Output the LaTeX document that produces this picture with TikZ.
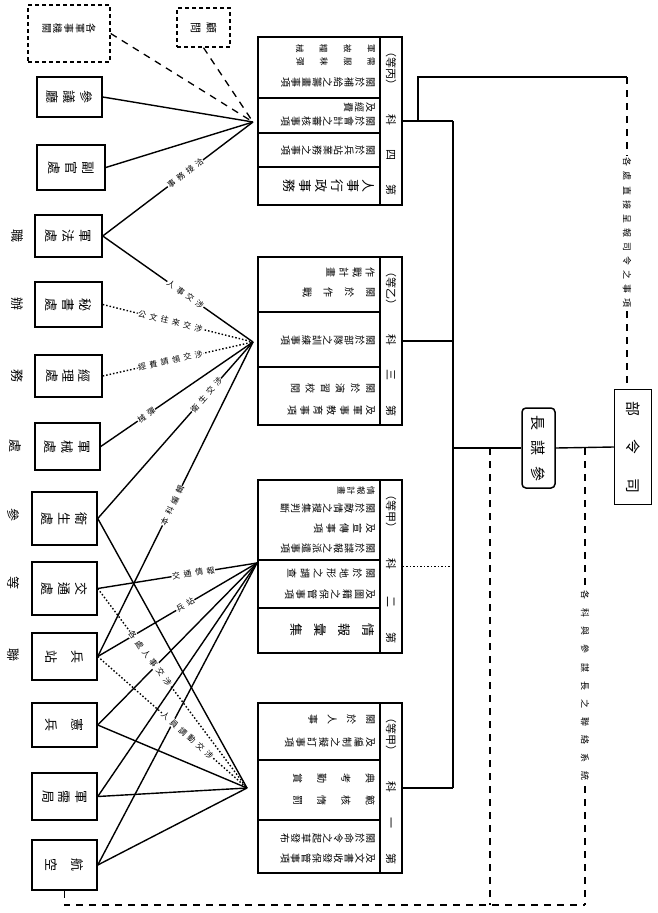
\documentclass[tikz,border=0pt]{standalone}
\usepackage{fontspec}
\newfontfamily\cjk{Noto Sans CJK TC}
\newfontfamily\cjklab[LetterSpace=45]{Noto Sans CJK TC}
\usetikzlibrary{calc}
\makeatletter
\def\vt@first#1{\hbox to 1.1em{\hss#1\hss}\vt@aux}
\def\vt@aux#1{\ifx\relax#1\else\kern\vt@gap\relax\hbox to 1.1em{\hss#1\hss}\expandafter\vt@aux\fi}
\newcommand\vtxt[2][1pt]{\vbox{\offinterlineskip\def\vt@gap{#1}\vt@first#2\relax}}
\def\sp@aux#1{\ifx\relax#1\else#1\hfil\expandafter\sp@aux\fi}
\newcommand\spreadtxt[2]{\hbox to #1{\sp@aux#2\relax\unskip}}
\makeatother
\begin{document}
\begin{tikzpicture}[x=1pt,y=-1pt,
  conn/.style={line width=1.4pt},
  dotc/.style={line width=1.4pt, dash pattern=on 1.5pt off 2pt},
  dsh/.style={line width=1.3pt, dash pattern=on 7pt off 6pt},
  lbox/.style={draw, line width=1.5pt, inner sep=0pt, fill=white},
  dbox/.style={draw, line width=1.4pt, dash pattern=on 4pt off 3pt, inner sep=0pt, fill=white},
  bigbox/.style={draw, line width=1.7pt, inner sep=0pt, minimum width=144pt, fill=white},
  inln/.style={line width=1.4pt},
  trow/.style={rotate=-90, anchor=north, inner sep=0pt, font=\cjk\fontsize{10}{10}\selectfont},
  trowS/.style={trow, font=\cjk\fontsize{8.5}{8.5}\selectfont},
  trowL/.style={trow, font=\cjk\fontsize{13}{13}\selectfont},
  bt/.style={rotate=-90, inner sep=0pt, font=\cjk\fontsize{13}{13}\selectfont},
  hd/.style={rotate=-90, inner sep=0pt, font=\cjk\fontsize{11}{11}\selectfont},
  lab/.style={sloped, fill=white, inner sep=0.6pt, font=\cjklab\fontsize{8}{8}\selectfont},
  sidel/.style={rotate=-90, inner sep=0pt, font=\cjk\fontsize{13}{13}\selectfont},
]
\useasboundingbox (0,0) rectangle (658,913);
\fill[white] (0,0) rectangle (658,913);

% ---------------- left boxes ----------------
\node[dbox, minimum width=82pt, minimum height=57pt] (b1) at (69,33.5) {};
\node[dbox, minimum width=53pt, minimum height=39pt] (b2) at (203.5,27.5) {};
\node[lbox, minimum width=65pt, minimum height=40pt] (b3) at (69.5,97) {};
\node[lbox, minimum width=68pt, minimum height=45pt] (b4) at (71,167.5) {};
\node[lbox, minimum width=67pt, minimum height=42pt] (b5) at (68.5,236) {};
\node[lbox, minimum width=67pt, minimum height=45pt] (b6) at (68.5,304.5) {};
\node[lbox, minimum width=67pt, minimum height=42pt] (b7) at (68.5,376) {};
\node[lbox, minimum width=65pt, minimum height=47pt] (b8) at (67.5,446.5) {};
\node[lbox, minimum width=65pt, minimum height=53pt] (b9) at (64.5,518.5) {};
\node[lbox, minimum width=65pt, minimum height=53pt] (b10) at (64.5,588.5) {};
\node[lbox, minimum width=65pt, minimum height=47pt] (b11) at (64.5,656.5) {};
\node[lbox, minimum width=65pt, minimum height=44pt] (b12) at (64.5,725) {};
\node[lbox, minimum width=65pt, minimum height=47pt] (b13) at (64.5,796.5) {};
\node[lbox, minimum width=65pt, minimum height=50pt] (b14) at (64.5,865) {};

% ---------------- convergence points ----------------
\coordinate (PA) at (253,122);
\coordinate (PB) at (253,342);
\coordinate (PC) at (257,563);
\coordinate (PD) at (247,788);

% to A
\draw[dsh] (b1.east) -- (PA);
\draw[dsh] (b2.south) -- (PA);
\draw[conn] (b3.east) -- (PA);
\draw[conn] (b4.east) -- (PA);
\draw[conn] (b5.east) -- node[lab, pos=0.55] {事務接洽} (PA);
% to B
\draw[conn] (b5.east) -- node[lab, pos=0.55] {人事交涉} (PB);
\draw[dotc] (b6.east) -- node[lab, pos=0.45] {公文往來交涉} (PB);
\draw[dotc] (b7.east) -- node[lab, pos=0.45] {經費請領交涉} (PB);
\draw[conn] (b8.east) -- node[lab, pos=0.3] {械彈} (PB);
\draw[conn] (b9.east) -- node[lab, pos=0.7] {衛生交涉} (PB);
\draw[conn] (b11.east) -- node[lab, pos=0.48] {本科編輯} (PB);
% to C
\draw[conn] (b10.east) -- node[lab, pos=0.6] {交通情報} (PC);
\draw[conn] (b11.east) -- node[lab, pos=0.55] {兵站} (PC);
\draw[conn] (b12.east) -- (PC);
\draw[conn] (b13.east) -- (PC);
\draw[conn] (b14.east) -- (PC);
% to D
\draw[conn] (b9.east) -- (PD);
\draw[dotc] (b10.east) -- node[lab, pos=0.35] {各處人事交涉} (PD);
\draw[dotc] (b11.east) -- node[lab, pos=0.6] {人員調動交涉} (PD);
\draw[conn] (b12.east) -- (PD);
\draw[conn] (b13.east) -- (PD);
\draw[conn] (b14.east) -- (PD);

% texts of left boxes
\node[bt, font=\cjk\fontsize{10}{10}\selectfont] (b1t) at (69,28) {\vtxt[2pt]{各軍事機關}};
\node[bt, font=\cjk\fontsize{11}{11}\selectfont] (b2t) at (b2.center) {\vtxt[6pt]{顧問}};
\node[bt] (b3t) at (b3.center) {\vtxt[5pt]{參議廳}};
\node[bt] (b4t) at (b4.center) {\vtxt[5pt]{副官處}};
\node[bt] (b5t) at (b5.center) {\vtxt[5pt]{軍法處}};
\node[bt] (b6t) at (b6.center) {\vtxt[5pt]{秘書處}};
\node[bt] (b7t) at (b7.center) {\vtxt[5pt]{經理處}};
\node[bt] (b8t) at (b8.center) {\vtxt[5pt]{軍械處}};
\node[bt] (b9t) at (b9.center) {\vtxt[5pt]{衛生處}};
\node[bt] (b10t) at (b10.center) {\vtxt[5pt]{交通處}};
\node[bt] (b11t) at (b11.center) {\vtxt[14pt]{兵站}};
\node[bt] (b12t) at (b12.center) {\vtxt[14pt]{憲兵}};
\node[bt] (b13t) at (b13.center) {\vtxt[5pt]{軍需局}};
\node[bt] (b14t) at (b14.center) {\vtxt[14pt]{航空}};

% side labels
\node[sidel] (s5) at (17,236) {職};
\node[sidel] (s6) at (17,304) {辦};
\node[sidel] (s7) at (17,376) {務};
\node[sidel] (s8) at (15,446) {處};
\node[sidel] (s9) at (13,515) {參};
\node[sidel] (s10) at (13,583) {等};
\node[sidel] (s11) at (13,655) {聯};

% ---------------- big boxes ----------------
\node[bigbox, minimum height=168pt] (A) at (330,121) {};
\node[bigbox, minimum height=168pt] (B) at (330,341) {};
\node[bigbox, minimum height=173pt] (C) at (330,566.5) {};
\node[bigbox, minimum height=170pt] (D) at (330,788) {};

% A internals
\draw[inln] (380,37) -- (380,205);
\draw[inln] (258,98) -- (380,98);
\draw[inln] (258,133) -- (380,133);
\draw[inln] (258,167) -- (380,167);
\node[hd] (Ah) at (391,121) {\hbox to 150pt{（等丙）\hfil 科\hfil 四\hfil 第}};
\node[trowS] (A1) at (375,49) {\vtxt[16pt]{軍被糧械}};
\node[trowS] (A2) at (375,62) {\vtxt[16pt]{需服秣彈}};
\node[trow] (A3) at (375,82) {\vtxt[1.5pt]{關於補給之籌畫事項}};
\node[trow] (A4) at (375,107) {\vtxt[2pt]{及經費}};
\node[trow] (A5) at (375,121) {\vtxt[1.5pt]{關於會計之審核事項}};
\node[trow] (A6) at (375,150) {\vtxt[1.5pt]{關於兵站業務之事項}};
\node[trowL] (A7) at (375,186) {\vtxt[4pt]{人事行政事務}};

% B internals
\draw[inln] (380,257) -- (380,425);
\draw[inln] (258,312) -- (380,312);
\draw[inln] (258,367) -- (380,367);
\node[hd] (Bh) at (391,341) {\hbox to 150pt{（等乙）\hfil 科\hfil 三\hfil 第}};
\node[trow] (B1) at (375,272) {\vtxt[4pt]{作戰計畫}};
\node[trow] (B2) at (375,292) {\vtxt[12pt]{關於作戰}};
\node[trow] (B3) at (375,340) {\vtxt[1.5pt]{關於部隊之訓練事項}};
\node[trow] (B4) at (375,388) {\vtxt[6pt]{關於演習校閱}};
\node[trow] (B5) at (375,410) {\vtxt[4pt]{及軍事教育事項}};

% C internals
\draw[inln] (380,480) -- (380,653);
\draw[inln] (258,560) -- (380,560);
\draw[inln] (258,608) -- (380,608);
\node[hd] (Ch) at (391,566.5) {\hbox to 155pt{（等甲）\hfil 科\hfil 二\hfil 第}};
\node[trowS] (C1) at (375,491) {\vtxt[2pt]{情報計畫}};
\node[trow] (C2) at (375,508) {\vtxt[1.5pt]{關於敵情之搜集判斷}};
\node[trow] (C3) at (375,528) {\vtxt[4pt]{及宣傳事項}};
\node[trow] (C4) at (375,548) {\vtxt[1.5pt]{關於諜報之派遣事項}};
\node[trow] (C5) at (375,573) {\vtxt[4pt]{關於地形之調查}};
\node[trow] (C6) at (375,594) {\vtxt[2.5pt]{及圖籍之保管事項}};
\node[trowL] (C7) at (375,630) {\vtxt[12pt]{情報彙集}};

% D internals
\draw[inln] (380,703) -- (380,873);
\draw[inln] (258,760) -- (380,760);
\draw[inln] (258,820) -- (380,820);
\node[hd] (Dh) at (391,788) {\hbox to 152pt{（等甲）\hfil 科\hfil 一\hfil 第}};
\node[trow] (D1) at (375,719) {\vtxt[10pt]{關於人事}};
\node[trow] (D2) at (375,742) {\vtxt[2.5pt]{及編制之擬訂事項}};
\node[trow] (D3) at (375,778) {\vtxt[15pt]{典考勤賞}};
\node[trow] (D4) at (375,800) {\vtxt[15pt]{範核惰罰}};
\node[trow] (D5) at (375,838) {\vtxt[1.5pt]{關於命令之起草發布}};
\node[trow] (D6) at (375,858) {\vtxt[1.5pt]{及文書收發保管事項}};

% ---------------- right side ----------------
\node[draw, line width=1.5pt, rounded corners=4pt, minimum width=33pt, minimum height=80pt, inner sep=0pt, fill=white] (CS) at (538.5,448) {};
\node[hd, font=\cjk\fontsize{15}{15}\selectfont] (CSt) at (CS.center) {\hbox to 66pt{長\hfil 謀\hfil 參}};
\node[draw, line width=1.5pt, minimum width=37pt, minimum height=115pt, inner sep=0pt, fill=white] (HQ) at (633,447) {};
\node[hd, font=\cjk\fontsize{15}{15}\selectfont] (HQt) at (HQ.center) {\hbox to 92pt{部\hfil 令\hfil 司}};

\coordinate (T1) at (453,121);
\coordinate (T4) at (453,788);
\coordinate (TS) at (453,448);
\draw[conn] (A.east) -- (T1);
\draw[conn] (T1) -- (T4);
\draw[conn] (B.east) -- (B.east -| T1);
\draw[dotc] (C.east) -- (C.east -| T1);
\draw[conn] (D.east) -- (D.east -| T1);
\draw[conn] (TS) -- (CS.west);
\draw[conn] (CS.east) -- (HQ.west);

\coordinate (K0) at (418,121);
\coordinate (K1) at (418,77);
\coordinate (K2) at (627,77);
\draw[conn] (K0) -- (K1) -- (K2);
\draw[dsh] (K2) -- node[pos=0.5, hd, fill=white, inner sep=2pt, font=\cjk\fontsize{9}{9}\selectfont] {\spreadtxt{150pt}{各處直接呈報司令之事項}} ([xshift=-6pt]HQ.north);

% dashed return lines
\coordinate (R1) at (490,448);
\coordinate (R2) at (585,448);
\coordinate (R1b) at (490,905);
\coordinate (R2b) at (585,905);
\coordinate (R0b) at (64.5,905);
\draw[dsh] (R1) -- (R1b);
\draw[dsh] (R2) -- node[pos=0.52, hd, fill=white, inner sep=2pt, font=\cjk\fontsize{9}{9}\selectfont] {\spreadtxt{190pt}{各科與參謀長之聯絡系統}} (R2b);
\draw[dsh] (b14.south) -- (R0b) -- (R2b);
\end{tikzpicture}
\end{document}
